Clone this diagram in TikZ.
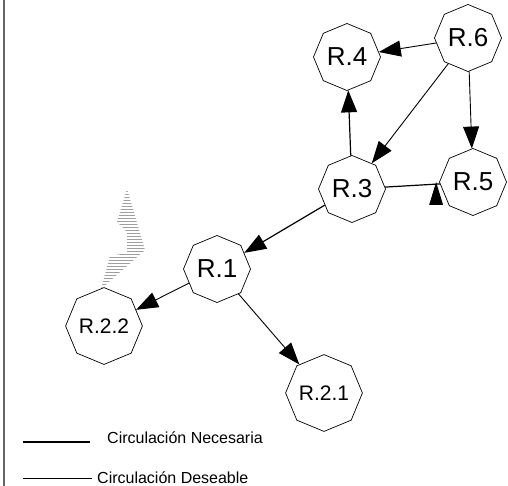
\documentclass[tikz,border=0pt]{standalone}
\usepackage{fontspec}
\setmainfont{Liberation Sans}
\usetikzlibrary{shapes.geometric,arrows.meta,patterns}
\begin{document}
\begin{tikzpicture}[x=1pt,y=-1pt,
  room/.style={draw,line width=0.7pt,regular polygon,regular polygon sides=8,
    shape border rotate=22.5,minimum size=67pt,inner sep=0pt,
    font=\fontsize{26}{26}\selectfont},
  smallroom/.style={room,font=\fontsize{21}{21}\selectfont},
  flow/.style={line width=0.9pt,-{Triangle[length=22pt,width=16pt]}},
  legend/.style={anchor=base west,inner sep=0pt,font=\fontsize{16}{16}\selectfont}]
\useasboundingbox (0,0) rectangle (508,486);
\draw[line width=1.5pt,gray!80!black] (4,0) -- (4,486);
% rooms
\node[room] (r6) at (468,38) {R.6};
\node[room] (r4) at (347,57) {R.4};
\node[room] (r3) at (352,189) {R.3};
\node[room] (r5) at (473,182) {R.5};
\node[room] (r1) at (217,269) {R.1};
\node[smallroom] (r22) at (104,326) {R.2.2};
\node[smallroom] (r21) at (324,393) {R.2.1};
% circulation
\draw[flow] (r6) -- (r4);
\draw[flow] (r6) -- (r3);
\draw[flow] (r6) -- (r5);
\draw[flow,line width=1.2pt] (r3) -- (r4);
\draw[flow,line width=1.2pt] (r3) -- (r1);
\draw[flow] (r1) -- (r22);
\draw[flow] (r1) -- (r21);
\draw[line width=1.2pt] (r3) -- (r5);
\fill ([xshift=-3pt]r5.west) -- ++(-7,23) -- ++(14,0) -- cycle;
% hatched strip
\fill[pattern=horizontal lines,pattern color=gray!75]
  (127,189) -- (145,250) -- (101,289) -- (110,256) -- (127,253) -- (127,232) -- (117,222) -- cycle;
% legend
\draw[line width=1.3pt] (23,442) -- (90,442);
\node[legend] (nec) at (107,443) {Circulación Necesaria};
\draw[line width=0.7pt] (23,478) -- (92,478);
\node[legend] (des) at (97,483) {Circulación Deseable};
\end{tikzpicture}
\end{document}
